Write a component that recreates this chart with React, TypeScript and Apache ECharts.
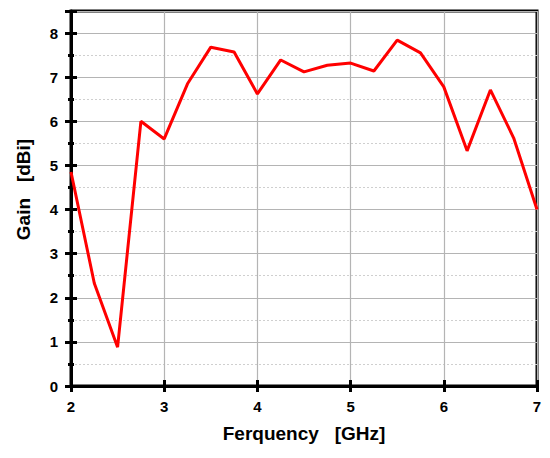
import React, { useEffect, useRef } from "react";
import * as echarts from "echarts";

const frequencies = [2, 2.25, 2.5, 2.75, 3, 3.25, 3.5, 3.75, 4, 4.25, 4.5, 4.75, 5, 5.25, 5.5, 5.75, 6, 6.25, 6.5, 6.75, 7];
const gains = [4.85, 2.33, 0.88, 6.0, 5.6, 6.85, 7.68, 7.57, 6.62, 7.39, 7.12, 7.27, 7.32, 7.14, 7.84, 7.55, 6.78, 5.33, 6.71, 5.62, 4.0];
const xTitle = "Ferquency   [GHz]";
const yTitle = "Gain   [dBi]";

const FONT = "'Liberation Sans', Arial, sans-serif";

export default function App() {
  const ref = useRef<HTMLDivElement>(null);
  useEffect(() => {
    if (!ref.current) return;
    const chart = echarts.init(ref.current, null, { renderer: "svg" });
    const labelStyle = { color: "#000", fontWeight: "bold" as const, fontSize: 15, fontFamily: FONT };
    const hidden = { show: false };
    chart.setOption({
      animation: false,
      backgroundColor: "#fff",
      grid: {
        left: 71,
        right: 13,
        top: 11,
        bottom: 72,
        containLabel: false,
        show: true,
        borderColor: "#000",
        borderWidth: 3,
        backgroundColor: "transparent",
      },
      xAxis: [
        {
          type: "value",
          min: 2,
          max: 7,
          interval: 1,
          position: "bottom",
          name: xTitle,
          nameLocation: "middle",
          nameGap: 38,
          nameTextStyle: { color: "#000", fontWeight: "bold", fontSize: 19, fontFamily: FONT },
          axisLine: { show: true, onZero: false, lineStyle: { color: "#000", width: 3 } },
          axisTick: { show: true, inside: false, length: 6, lineStyle: { color: "#000", width: 3 } },
          axisLabel: { ...labelStyle, margin: 13 },
          splitLine: { show: true, lineStyle: { color: "#b4b4b4", width: 1.2 } },
        },
        {
          type: "value",
          min: 2,
          max: 7,
          interval: 1,
          position: "bottom",
          axisLine: { show: false, onZero: false },
          axisTick: { show: true, inside: true, length: 6, lineStyle: { color: "#000", width: 3 } },
          axisLabel: hidden,
          splitLine: hidden,
        },
      ],
      yAxis: [
        {
          type: "value",
          min: 0,
          max: 8.5,
          interval: 1,
          position: "left",
          name: yTitle,
          nameLocation: "middle",
          nameGap: 38,
          nameTextStyle: {
            color: "#000",
            fontWeight: "bold",
            fontSize: 19,
            fontFamily: FONT,
            padding: [0, 0, 0, 18],
          },
          axisLine: { show: true, onZero: false, lineStyle: { color: "#000", width: 3 } },
          axisTick: { show: true, inside: false, length: 6, lineStyle: { color: "#000", width: 3 } },
          minorTick: { show: true, splitNumber: 2, length: 3, lineStyle: { color: "#000", width: 3 } },
          axisLabel: {
            ...labelStyle,
            margin: 13,
            formatter: (v: number) => (Number.isInteger(v) && v <= 8 ? String(v) : ""),
          },
          splitLine: { show: true, lineStyle: { color: "#b4b4b4", width: 1.2 } },
          minorSplitLine: { show: true, lineStyle: { color: "#cfcfcf", width: 1, type: [2, 2] } },
        },
        {
          type: "value",
          min: 0,
          max: 8.5,
          interval: 1,
          position: "left",
          axisLine: { show: false, onZero: false },
          axisTick: { show: true, inside: true, length: 6, lineStyle: { color: "#000", width: 3 } },
          minorTick: { show: true, splitNumber: 2, length: 3, lineStyle: { color: "#000", width: 3 } },
          axisLabel: hidden,
          splitLine: hidden,
        },
      ],
      series: [
        {
          type: "line",
          xAxisIndex: 0,
          yAxisIndex: 0,
          data: frequencies.map((f, i) => [f, gains[i]]),
          showSymbol: false,
          symbol: "none",
          lineStyle: { color: "#ff0000", width: 3 },
          z: 5,
        },
      ],
    });
    return () => chart.dispose();
  }, []);
  return <div ref={ref} style={{ width: 550, height: 458, margin: -8 }} />;
}
